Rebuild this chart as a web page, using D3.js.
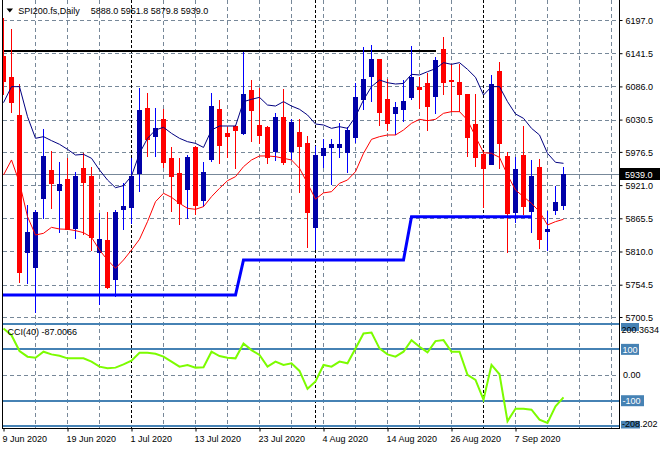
<!DOCTYPE html>
<html><head><meta charset="utf-8">
<script src="https://cdn.jsdelivr.net/npm/d3@7/dist/d3.min.js"></script>
<style>
body{margin:0;background:#fff}
svg{display:block}
text{font-family:"Liberation Sans",Arial,sans-serif;font-size:9px;fill:#000}
</style>
</head><body>
<svg id="c" width="660" height="450"></svg>
<script>
// ---------------- DATA ----------------
const dates = ["2020-06-09","2020-06-10","2020-06-11","2020-06-12","2020-06-15","2020-06-16","2020-06-17","2020-06-18","2020-06-19",
"2020-06-22","2020-06-23","2020-06-24","2020-06-25","2020-06-26","2020-06-29","2020-06-30","2020-07-01","2020-07-02","2020-07-03",
"2020-07-06","2020-07-07","2020-07-08","2020-07-09","2020-07-10","2020-07-13","2020-07-14","2020-07-15","2020-07-16","2020-07-17",
"2020-07-20","2020-07-21","2020-07-22","2020-07-23","2020-07-24","2020-07-27","2020-07-28","2020-07-29","2020-07-30","2020-07-31",
"2020-08-03","2020-08-04","2020-08-05","2020-08-06","2020-08-07","2020-08-10","2020-08-11","2020-08-12","2020-08-13","2020-08-14",
"2020-08-17","2020-08-18","2020-08-19","2020-08-20","2020-08-21","2020-08-24","2020-08-25","2020-08-26","2020-08-27","2020-08-28",
"2020-08-31","2020-09-01","2020-09-02","2020-09-03","2020-09-04","2020-09-07","2020-09-08","2020-09-09","2020-09-10","2020-09-11",
"2020-09-14","2020-09-15"];
const openP  = [6136.8,6101.2,6038.2,5809.7,5784.6,5900.0,5946.3,5913.4,5931.2,5849.9,5949.6,5936.2,5809.7,5829.2,5763.5,5881.6,5885.0,5941.8,6049.9,6003.6,6031.0,5966.9,5941.2,5914.5,5985.3,5896.1,5964.1,6048.2,6007.5,6019.8,6008.7,6079.4,6021.5,6018.7,5978.6,6034.3,5978.6,6009.2,5992.0,5850.4,5971.9,5984.1,5985.3,5976.3,6002.0,6064.4,6103.4,6131.2,6064.4,6041.0,6047.7,6068.8,6085.6,6092.2,6069.9,6148.5,6096.7,6093.4,6073.3,6023.2,5972.4,5956.3,6112.3,5969.7,5876.6,5971.3,5878.3,5951.3,5844.8,5879.4,5888.0];
const highP  = [6199.8,6182.0,6090.0,5887.8,5880.0,6014.8,5978.0,5959.6,5965.8,5942.4,5975.2,5951.3,5874.9,5876.0,5880.0,5924.0,5965.8,6082.8,6074.4,6050.5,6047.7,5984.1,5966.9,5971.3,5987.0,5960.2,6075.5,6063.3,6018.7,6021.0,6144.1,6096.7,6083.9,6020.0,6041.0,6081.7,6031.5,6031.5,6003.0,5986.4,5998.1,5998.1,6025.4,6017.6,6092.2,6152.4,6155.2,6132.0,6097.8,6060.5,6096.7,6153.5,6101.2,6109.0,6134.6,6168.0,6122.9,6123.4,6074.0,6073.3,5977.0,6105.1,6127.3,5976.9,5968.5,6020.4,5963.0,5964.1,5877.7,5920.1,5951.8];
const lowP   = [6071.6,6042.1,5757.9,5755.1,5707.7,5863.8,5881.6,5840.4,5846.0,5831.5,5837.6,5810.3,5720.1,5748.0,5734.4,5846.0,5856.0,5910.0,5967.4,5968.5,5950.2,5875.5,5854.3,5864.3,5871.0,5885.0,5960.2,5956.3,5966.9,5947.9,6004.8,5993.6,5989.7,5956.3,5961.9,5954.6,5963.0,5907.3,5815.3,5812.5,5950.2,5921.2,5966.9,5941.8,5992.0,6047.0,6060.5,6019.8,6011.4,6004.8,6027.0,6063.3,6047.7,6012.0,6039.9,6071.6,6043.8,6043.8,5967.4,5951.8,5882.2,5954.6,5947.4,5806.9,5857.1,5871.0,5841.5,5814.2,5811.4,5871.0,5879.8];
const closeP = [6095.5,6060.5,5776.3,5842.6,5876.0,5969.7,5925.1,5922.9,5847.1,5936.2,5926.2,5834.3,5830.9,5750.5,5876.0,5886.1,5936.8,6046.6,5998.6,6017.0,5959.6,5936.8,5890.5,5968.5,5887.8,5943.5,6053.2,5988.0,6003.0,6013.1,6073.3,6046.6,6004.8,5968.5,6034.3,5960.2,6025.9,5986.9,5876.6,5971.3,5983.0,5989.7,5989.7,6013.1,6067.7,6097.8,6131.2,6043.8,6025.4,6051.0,6061.6,6101.2,6082.2,6053.2,6130.1,6093.9,6095.6,6073.3,6002.0,5968.5,5950.2,6090.0,5991.9,5873.8,5947.4,5886.6,5936.2,5831.5,5847.6,5892.8,5939.0];
const maUpper = [6058.8,6085.6,6085.6,6035.4,5999.2,6002.0,5995.3,5989.2,5980.8,5971.3,5972.4,5965.8,5946.3,5929.5,5916.7,5920.1,5936.2,5974.1,5999.2,6013.1,6017.6,6007.5,5999.2,5993.6,5990.8,5984.0,6013.1,6019.8,6019.8,6019.8,6060.5,6064.4,6067.7,6054.9,6053.2,6060.5,6053.2,6047.7,6038.2,6023.1,6021.5,6015.9,6018.7,6015.9,6035.4,6063.3,6085.6,6096.7,6092.2,6090.0,6091.0,6106.2,6105.1,6110.6,6115.6,6125.7,6122.9,6125.7,6114.5,6101.2,6071.6,6085.6,6085.6,6060.5,6039.9,6032.6,6015.9,6004.8,5974.1,5959.1,5957.4];
const maLower = [5937.9,5963.0,5925.0,5868.3,5837.6,5840.4,5850.4,5847.6,5847.1,5844.9,5841.5,5833.7,5812.5,5795.8,5781.9,5795.8,5812.5,5830.4,5859.9,5893.3,5907.3,5900.6,5890.5,5882.2,5880.5,5885.0,5901.7,5915.6,5928.4,5935.1,5951.8,5963.0,5969.7,5969.7,5968.6,5965.8,5963.0,5949.1,5924.0,5897.5,5908.0,5910.0,5924.0,5929.5,5943.5,5974.1,5997.5,6002.0,6004.8,6004.8,6013.1,6024.3,6031.0,6028.7,6031.0,6041.0,6043.8,6043.8,6029.8,6002.0,5975.2,5974.1,5967.4,5937.9,5912.8,5901.7,5890.5,5876.6,5854.3,5859.9,5863.8];
const supportLevel = [5737.3,5737.3,5737.3,5737.3,5737.3,5737.3,5737.3,5737.3,5737.3,5737.3,5737.3,5737.3,5737.3,5737.3,5737.3,5737.3,5737.3,5737.3,5737.3,5737.3,5737.3,5737.3,5737.3,5737.3,5737.3,5737.3,5737.3,5737.3,5737.3,5737.3,
5795.8,5795.8,5795.8,5795.8,5795.8,5795.8,5795.8,5795.8,5795.8,5795.8,5795.8,5795.8,5795.8,5795.8,5795.8,5795.8,5795.8,5795.8,5795.8,5795.8,5795.8,
5868.2,5868.2,5868.2,5868.2,5868.2,5868.2,5868.2,5868.2,5868.2,5868.2,5868.2,5868.2,5868.2,5868.2,5868.2,5868.2];
const resistance = {price:6145.2, endDate:"2020-08-24"};
const cci = [181,155,93.4,71.5,67.6,90.9,80.5,75.3,65.1,65.1,65.1,52.2,32.8,26.4,28.9,41.8,56,87,87,83.1,71.5,52.2,32.8,39.3,28.9,30.2,90.9,74.1,67.6,65.1,123.1,97.3,78,32.8,52.2,39.3,45.7,16.1,-53.6,-25.2,39.3,32.8,52.2,45.7,103.7,161.8,165.6,103.7,80.5,71.5,90.9,136,110.2,88.3,132.1,136,90.9,90.9,0.6,-18.6,-96,39.3,3.2,-179.9,-130.9,-130.9,-134.8,-173.5,-186.4,-121.9,-87.0066];
const cciLevels = [200,100,-100,-200];
const cciRange = [-208.202, 200.3634];
const priceTicks = [6197.0,6141.5,6086.0,6030.5,5976.5,5921.0,5865.5,5810.0,5754.5,5700.5];
const dateTicks = ["2020-06-09","2020-06-19","2020-07-01","2020-07-13","2020-07-23","2020-08-04","2020-08-14","2020-08-26","2020-09-07"];
const title = "SPI200.fs,Daily";
const ohlcText = "5888.0 5951.8 5879.8 5939.0";
const cciTitle = "CCI(40) -87.0066";

// ---------------- LAYOUT ----------------
const svg = d3.select("#c");
const L = 2.5, R = 619.5;
const pTop = 0, pBot = 319.5, cTop = 322, cBot = 428.5;
const grid = "#778899", steel = "#4682b4";

const x = d3.scalePoint().domain(dates).range([3.5, 3.5 + 8*(dates.length-1)]);
const step = x.step();
const y = d3.scaleLinear().domain([5700.5, 6197]).range([317, 20]);
const yc = d3.scaleLinear().domain(cciRange).range([428.5, 323.6]);
const parse = d3.timeParse("%Y-%m-%d");
const fmtDate = d3.timeFormat("%-d %b %Y");

const defs = svg.append("defs");
defs.append("clipPath").attr("id","cp").append("rect").attr("x",L).attr("y",pTop).attr("width",R-L).attr("height",pBot-pTop);
defs.append("clipPath").attr("id","cc").append("rect").attr("x",L).attr("y",cTop).attr("width",R-L).attr("height",cBot-cTop);

const gGrid = svg.append("g").attr("shape-rendering","crispEdges");
// vertical grid every 4 bars
const monthStarts = dates.filter((d,i)=> i>0 && d.slice(5,7)!==dates[i-1].slice(5,7));
const msX = monthStarts.map(d=>x(d));
for(let k=1;;k++){
  const gx = x(dates[0]) + 4*k*step;
  if(gx > R) break;
  if(msX.some(m=>Math.abs(m-gx)<1)) continue;
  gGrid.append("line").attr("x1",gx).attr("x2",gx).attr("y1",0).attr("y2",cBot)
    .attr("stroke",grid).attr("stroke-dasharray","4,3");
}
// horizontal price grid
priceTicks.forEach(v=>{
  const yy = Math.round(y(v))+0.5;
  gGrid.append("line").attr("x1",L).attr("x2",R).attr("y1",yy).attr("y2",yy)
    .attr("stroke",grid).attr("stroke-dasharray","4,3");
});
// month separators
msX.forEach(mx=>{
  gGrid.append("line").attr("x1",mx).attr("x2",mx).attr("y1",0).attr("y2",cBot)
    .attr("stroke","#000").attr("stroke-dasharray","3,2");
});
// CCI zero dashed + levels
gGrid.append("line").attr("x1",L).attr("x2",R).attr("y1",Math.round(yc(0))+0.5).attr("y2",Math.round(yc(0))+0.5)
  .attr("stroke",grid).attr("stroke-dasharray","4,3");
cciLevels.forEach(v=>{
  const yy = Math.round(yc(v));
  gGrid.append("line").attr("x1",L).attr("x2",R).attr("y1",yy).attr("y2",yy)
    .attr("stroke",steel).attr("stroke-width",2);
});
// bid line
const bidY = Math.round(y(closeP[closeP.length-1]))+0.5;
gGrid.append("line").attr("x1",L).attr("x2",R).attr("y1",bidY).attr("y2",bidY).attr("stroke",grid);

// resistance line
const gP = svg.append("g").attr("clip-path","url(#cp)");
const rY = Math.round(y(resistance.price));
gP.append("line").attr("x1",L).attr("x2",x(resistance.endDate)).attr("y1",rY).attr("y2",rY)
  .attr("stroke","#000").attr("stroke-width",2).attr("shape-rendering","crispEdges");

// candles
const bars = dates.map((d,i)=>({d,o:openP[i],h:highP[i],l:lowP[i],c:closeP[i]}));
const gC = gP.append("g").attr("shape-rendering","crispEdges");
bars.forEach(b=>{
  const up = b.c >= b.o;
  const cx = x(b.d);
  gC.append("line").attr("x1",cx).attr("x2",cx).attr("y1",y(b.h)).attr("y2",y(b.l))
    .attr("stroke", up ? "#0000ff" : "#ff0000");
  const yt = Math.round(y(Math.max(b.o,b.c))), yb = Math.round(y(Math.min(b.o,b.c)));
  gC.append("rect").attr("x",cx-2).attr("width",4).attr("y",yt+0.5).attr("height",Math.max(0,yb-yt))
    .attr("fill", up ? "#0000a8" : "#ff0000").attr("stroke", up ? "#0000a8" : "#ff0000");
});

// indicator lines
const lineGen = arr => d3.line().x((v,i)=>x(dates[i])).y(v=>y(v))(arr);
gP.append("path").attr("d",lineGen(maUpper)).attr("fill","none").attr("stroke","#000080").attr("stroke-width",1);
gP.append("path").attr("d",lineGen(maLower)).attr("fill","none").attr("stroke","#ff0000").attr("stroke-width",1);
gP.append("path").attr("d",d3.line().x((v,i)=>i===0?L:x(dates[i])).y(v=>y(v))(supportLevel))
  .attr("fill","none").attr("stroke","#0000ff").attr("stroke-width",3);

// CCI line
const gCC = svg.append("g").attr("clip-path","url(#cc)");
gCC.append("path").attr("d",d3.line().x((v,i)=>x(dates[i])).y(v=>yc(v))(cci))
  .attr("fill","none").attr("stroke","#7cfc00").attr("stroke-width",2);

// frames
const gF = svg.append("g").attr("shape-rendering","crispEdges");
gF.append("line").attr("x1",L).attr("x2",L).attr("y1",0).attr("y2",cBot).attr("stroke","#000");
gF.append("line").attr("x1",R).attr("x2",R).attr("y1",0).attr("y2",cBot).attr("stroke","#000");
gF.append("line").attr("x1",L).attr("x2",R).attr("y1",cBot).attr("y2",cBot).attr("stroke","#000");

// price axis (right)
const ay = svg.append("g").attr("transform",`translate(${R},0)`)
  .call(d3.axisRight(y).tickValues(priceTicks).tickFormat(d3.format(".1f")).tickSize(3).tickPadding(3));
ay.select(".domain").remove();
ay.selectAll("text").attr("font-size",9).attr("font-family","Liberation Sans, Arial, sans-serif").attr("dy","0.35em");

// bid label
svg.append("rect").attr("x",620).attr("y",168).attr("width",40).attr("height",12).attr("fill","#000");
svg.append("text").attr("x",625).attr("y",bidY+3.5).attr("fill","#fff").style("fill","#fff").text(d3.format(".1f")(closeP[closeP.length-1]));

// date axis
const ax = svg.append("g").attr("transform",`translate(0,${cBot})`)
  .call(d3.axisBottom(x).tickValues(dateTicks).tickFormat(d=>fmtDate(parse(d))).tickSize(3).tickPadding(4));
ax.select(".domain").remove();
ax.selectAll("text").attr("text-anchor","start").attr("x",-1.5).attr("font-size",9).attr("font-family","Liberation Sans, Arial, sans-serif");

// CCI axis labels
const lab = svg.append("g");
lab.append("rect").attr("x",621).attr("y",cTop+1).attr("width",18).attr("height",8).attr("fill",steel);
[[100,"100"],[-100,"-100"]].forEach(([v,t])=>{
  const yy = yc(v);
  lab.append("rect").attr("x",621).attr("y",yy-5.5).attr("width",t.length*5+3).attr("height",11).attr("fill",steel);
  lab.append("text").attr("x",622.5).attr("y",yy+3.3).style("fill","#fff").text(t);
});
lab.append("rect").attr("x",621).attr("y",yc(-200)-5.5).attr("width",19).attr("height",cBot-(yc(-200)-5.5)).attr("fill",steel);
lab.append("text").attr("x",623).attr("y",yc(0)+3.3).text("0.00");
lab.append("text").attr("x",621.5).attr("y",332.5).attr("font-size",8.5).text(d3.format(".4f")(cciRange[1]));
lab.append("text").attr("x",622).attr("y",426.5).text(String(cciRange[0]));

// titles
svg.append("path").attr("d","M6.5,8.5 L13,8.5 L9.75,12.5 Z").attr("fill","#000");
svg.append("text").attr("x",18.3).attr("y",14).text(title);
svg.append("text").attr("x",90.7).attr("y",14).text(ohlcText);
svg.append("text").attr("x",7.5).attr("y",335).text(cciTitle);
</script>
</body></html>
